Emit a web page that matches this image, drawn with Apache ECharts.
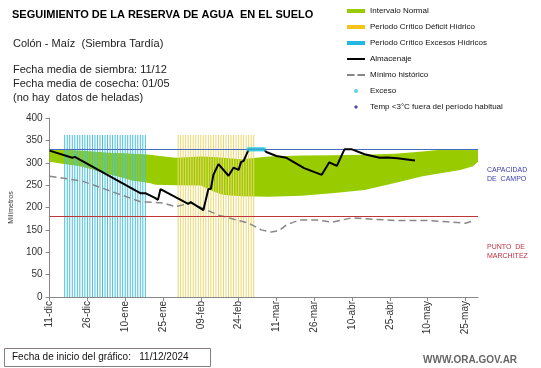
<!DOCTYPE html>
<html><head><meta charset="utf-8">
<script src="https://cdn.jsdelivr.net/npm/echarts@6/dist/echarts.min.js"></script>
<style>html,body{margin:0;padding:0;background:#fff}#c{width:541px;height:368px}</style>
</head><body><div id="c"></div>
<script>
// X axis: days since 11-dic-2024
const tickDays = [0, 15, 30, 45, 60, 75, 90, 105, 120, 135, 150, 165];
const tickLabels = ['11-dic', '26-dic', '10-ene', '25-ene', '09-feb', '24-feb', '11-mar', '26-mar', '10-abr', '25-abr', '10-may', '25-may'];
const axisEndDay = 170;

// Intervalo normal (band)
const bandDays = [0, 5, 10, 13, 20, 25, 30, 33, 37, 40, 42, 50, 60, 65, 69, 76, 87, 100, 112, 125, 137, 148, 157, 163, 168, 170];
const bandLow  = [302, 298, 294, 291, 280, 272, 265, 260, 257, 254, 251, 250, 249, 236, 228, 225, 224, 226, 232, 239, 255, 270, 278, 284, 292, 302];
const bandHigh = [330, 329, 328, 327, 324, 322, 321, 320, 319, 318, 316, 311, 314, 313, 311, 308, 314, 316, 317, 318, 320, 325, 330, 330, 330, 330];

// Almacenaje [day, mm]
const storage = [[0,327],[9,311],[10,313],[36,232],[38,232],[42,221],[43,217],[44,241],[55,208],[56,212],[61,194],[63,241],[64,242],[65,273],[67,297],[71,271],[73,289],[75,284],[76,302],[77,304],[79,330],[85,330],[86,324],[90,315],[94,311],[101,288],[108,273],[111,301],[114,293],[117,330],[120,330],[125,319],[131,311],[134,312],[138,310],[145,305]];

// Mínimo histórico [day, mm]
const histMin = [[0,270],[13,259],[25,235],[36,213],[45,210],[50,202],[56,210],[67,183],[79,165],[84,150],[88,145],[91,148],[94,161],[99,172],[106,172],[112,167],[120,177],[128,174],[137,171],[150,171],[158,168],[165,165],[168,170]];

// Exceso
const excessDays = [79, 80, 81, 82, 83, 84, 85];
const excessValue = [330, 330, 330, 330, 330, 330, 330];

// Periodos críticos
const wetDays = [6,7,8,9,10,11,12,13,14,15,16,17,18,19,20,21,22,23,24,25,26,27,28,29,30,31,32,33,34,35,36,37,38];
const deficitDays = [51,52,53,54,55,56,57,58,59,60,61,62,63,64,65,66,67,68,69,70,71,72,73,74,75,76,77,78,79,80,81];
const periodTop = 362;

const fieldCapacity = 330;
const wiltingPoint = 180;

const FONT = 'Liberation Sans, Arial, sans-serif';
const chart = echarts.init(document.getElementById('c'), null, {renderer: 'canvas'});

const option = {
  animation: false,
  backgroundColor: '#fff',
  grid: {left: 32, right: 63, top: 118, bottom: 71, containLabel: false},
  legend: {
    orient: 'vertical', left: 342, top: 1,
    itemWidth: 18, itemHeight: 4, itemGap: 6,
    textStyle: {fontSize: 8, fontFamily: FONT, color: '#111', lineHeight: 10},
    selectedMode: false,
    data: [
      {name: 'Intervalo Normal', icon: 'rect', itemStyle: {color: '#99cc00', opacity: 1}},
      {name: 'Periodo Crítico Déficit Hídrico', icon: 'rect', itemStyle: {color: '#f5c21a', opacity: 1}},
      {name: 'Periodo Crítico Excesos Hídricos', icon: 'rect', itemStyle: {color: '#22b8e6', opacity: 1}},
      {name: 'Almacenaje', icon: 'path://M0,0h18v2h-18z', itemStyle: {color: '#000', opacity: 1}},
      {name: 'Mínimo histórico', icon: 'path://M0,0h8v2h-8z M11,0h8v2h-8z', itemStyle: {color: '#888', opacity: 1}},
      {name: 'Exceso', icon: 'path://M1.5,0A1.5,1.5,0,1,1,1.49,0Z', itemStyle: {color: '#33c6ea'}},
      {name: 'Temp <3°C fuera del período habitual', icon: 'path://M2.5,0L5,2.5L2.5,5L0,2.5Z', itemStyle: {color: '#1a1a9a'}}
    ]
  },
  xAxis: {
    type: 'value', min: 0, max: axisEndDay,
    splitLine: {show: false},
    axisLine: {lineStyle: {color: '#888', width: 1}},
    axisTick: {show: true, length: 4, lineStyle: {color: '#888'}, customValues: tickDays},
    axisLabel: {
      customValues: tickDays, rotate: 90, margin: 4,
      fontSize: 10, fontFamily: FONT, color: '#333',
      formatter: v => { const i = tickDays.indexOf(v); return i >= 0 ? tickLabels[i] : ''; }
    }
  },
  yAxis: {
    type: 'value', min: 0, max: 400, interval: 50,
    name: 'Milímetros', nameLocation: 'middle', nameGap: 21, nameRotate: 90,
    nameTextStyle: {fontSize: 7, fontFamily: FONT, color: '#333'},
    splitLine: {show: false},
    axisLine: {show: true, lineStyle: {color: '#888', width: 1}},
    axisTick: {show: true, length: 4, lineStyle: {color: '#888'}},
    axisLabel: {fontSize: 10, fontFamily: FONT, color: '#333', margin: 7}
  },
  series: [
    {
      name: 'Intervalo Normal', type: 'custom', silent: true, z: 1,
      color: '#99cc00',
      data: bandDays.map((d, i) => [d, bandLow[i], bandHigh[i]]),
      encode: {x: 0, y: [1, 2]},
      renderItem: (params, api) => {
        if (params.dataIndex !== 0) return null;
        const pts = [];
        for (let i = 0; i < bandDays.length; i++) pts.push(api.coord([bandDays[i], bandHigh[i]]));
        for (let i = bandDays.length - 1; i >= 0; i--) pts.push(api.coord([bandDays[i], bandLow[i]]));
        return {type: 'polygon', shape: {points: pts}, style: {fill: '#99cc00'}};
      }
    },
    {
      name: 'Periodo Crítico Excesos Hídricos', type: 'bar', barWidth: 1, barGap: '-100%', silent: true,
      data: wetDays.map(d => [d, periodTop]),
      itemStyle: {color: '#45c0dc'}, z: 3
    },
    {
      name: 'Periodo Crítico Déficit Hídrico', type: 'bar', barWidth: 1, barGap: '-100%', silent: true,
      data: deficitDays.map(d => [d, periodTop]),
      itemStyle: {color: '#ecd870'}, z: 3
    },
    {
      name: 'Mínimo histórico', type: 'line', symbol: 'none', silent: true,
      data: histMin, color: '#888',
      lineStyle: {color: '#888', width: 1.5, type: [7, 4]}, z: 4,
      markLine: {
        silent: true, symbol: 'none', label: {show: false},
        data: [
          {yAxis: fieldCapacity, lineStyle: {color: '#4a6cc0', width: 1, type: 'solid'}},
          {yAxis: wiltingPoint, lineStyle: {color: '#c0353a', width: 1, type: 'solid'}}
        ]
      }
    },
    {
      name: 'Almacenaje', type: 'line', symbol: 'none', silent: true,
      data: storage, color: '#000',
      lineStyle: {color: '#000', width: 2}, z: 5
    },
    {
      name: 'Exceso', type: 'scatter', symbol: 'rect', symbolSize: [4, 4], silent: true,
      data: excessDays.map((d, i) => [d, excessValue[i]]),
      itemStyle: {color: '#33c6ea'}, z: 6
    },
    {
      name: 'Temp <3°C fuera del período habitual', type: 'scatter', symbol: 'diamond', symbolSize: 5,
      data: [], itemStyle: {color: '#1a1a9a'}, z: 6
    }
  ],
  graphic: [
    {type: 'text', left: 12, top: 9, style: {text: 'SEGUIMIENTO DE LA RESERVA DE AGUA  EN EL SUELO', fontSize: 11, fontWeight: 'bold', fontFamily: FONT, fill: '#000'}},
    {type: 'text', left: 13, top: 38, style: {text: 'Colón - Maíz  (Siembra Tardía)', fontSize: 11, fontFamily: FONT, fill: '#222'}},
    {type: 'text', left: 13, top: 63, style: {text: 'Fecha media de siembra: 11/12\nFecha media de cosecha: 01/05\n(no hay  datos de heladas)', fontSize: 11, lineHeight: 14, fontFamily: FONT, fill: '#222'}},
    {type: 'text', left: 487, top: 166, style: {text: 'CAPACIDAD\nDE  CAMPO', fontSize: 7, lineHeight: 8.5, fontFamily: FONT, fill: '#3b3bb3'}},
    {type: 'text', left: 487, top: 243, style: {text: 'PUNTO  DE\nMARCHITEZ', fontSize: 7, lineHeight: 8.5, fontFamily: FONT, fill: '#c03040'}},
    {type: 'rect', shape: {x: 4.5, y: 348.5, width: 206, height: 18}, style: {fill: '#fff', stroke: '#8a7f7f', lineWidth: 1}},
    {type: 'text', left: 12, top: 352, style: {text: 'Fecha de inicio del gráfico:   11/12/2024', fontSize: 10, fontFamily: FONT, fill: '#111'}},
    {type: 'text', left: 423, top: 355, style: {text: 'WWW.ORA.GOV.AR', fontSize: 10, fontWeight: 'bold', fontFamily: FONT, fill: '#666'}}
  ]
};
chart.setOption(option);
</script>
</body></html>
